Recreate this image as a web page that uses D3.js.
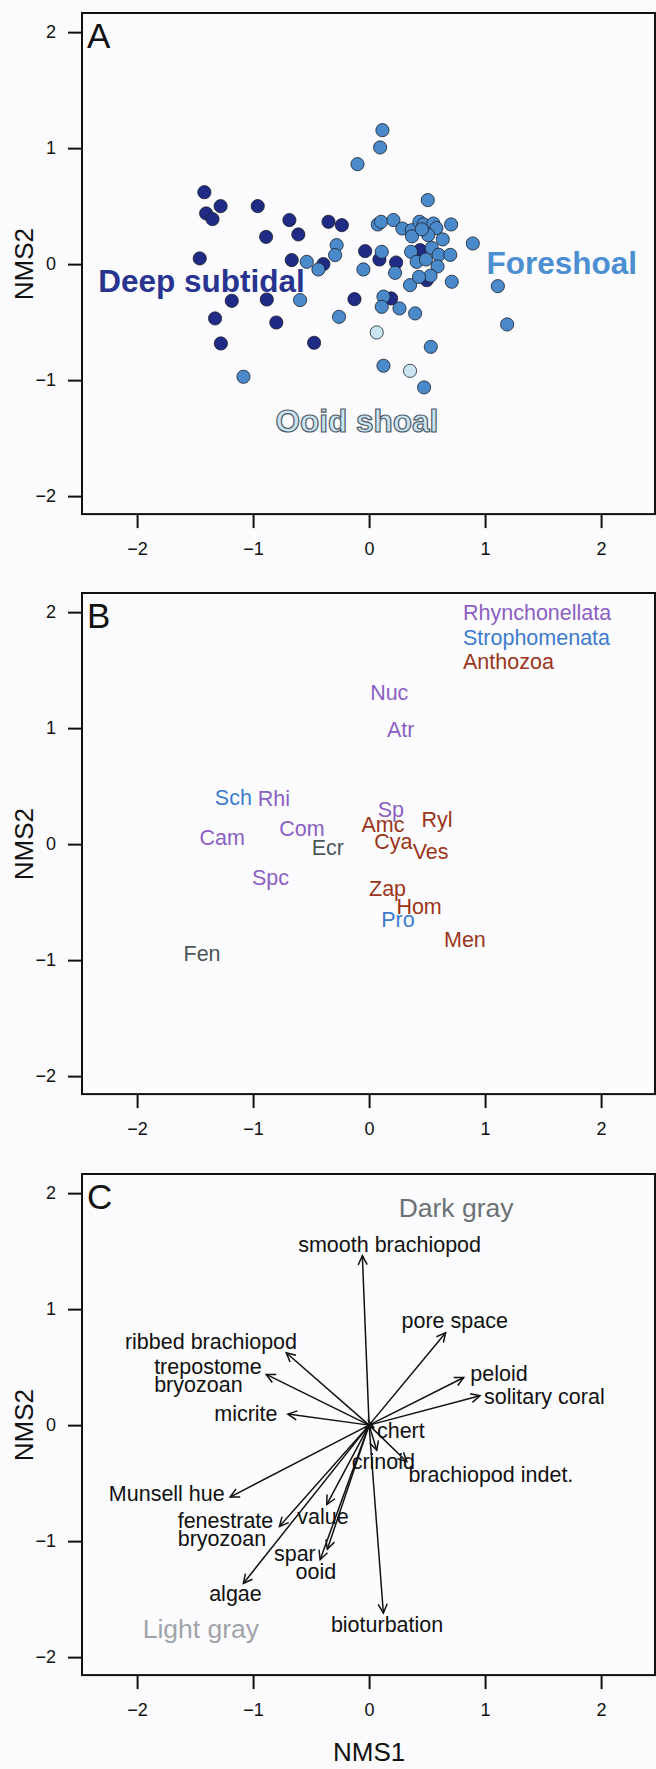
<!DOCTYPE html>
<html>
<head>
<meta charset="utf-8">
<script src="https://cdn.jsdelivr.net/npm/d3@7"></script>
<style>
  body { margin: 0; background: #fbfbfd; }
  svg { display: block; font-family: "Liberation Sans", Arial, Helvetica, sans-serif; }
</style>
</head>
<body>
<svg id="chart" width="656" height="1769"></svg>
<script>
// ---- panel A: site scores (NMS1, NMS2) by facies ----
const deepSubtidal = [
  [-1.42, 0.62], [-1.28, 0.50], [-1.405, 0.437], [-1.35, 0.388], [-0.96, 0.50],
  [-0.687, 0.38], [-0.888, 0.235], [-0.61, 0.256], [-0.35, 0.365], [-0.235, 0.336],
  [-1.46, 0.049], [-0.667, 0.035], [-0.394, 0.0], [-0.034, 0.112], [0.089, 0.04],
  [0.233, 0.014], [0.44, 0.121], [0.497, -0.138], [-1.184, -0.316], [-0.882, -0.305],
  [-0.126, -0.302], [0.19, -0.296], [-1.328, -0.468], [-0.80, -0.503], [-1.278, -0.684],
  [-0.474, -0.678]
];
const foreshoal = [
  [0.115, 1.155], [0.095, 1.006], [-0.10, 0.862], [0.506, 0.552], [0.075, 0.342],
  [0.103, 0.365], [0.21, 0.38], [0.287, 0.307], [0.368, 0.293], [0.434, 0.365],
  [0.47, 0.342], [0.554, 0.35], [0.58, 0.31], [0.707, 0.342], [0.894, 0.178],
  [0.51, 0.25], [0.635, 0.213], [0.37, 0.24], [0.455, 0.30], [0.54, 0.14],
  [-0.28, 0.164], [-0.293, 0.078], [-0.537, 0.02], [-0.437, -0.046], [-0.049, -0.046],
  [0.109, 0.106], [0.224, -0.075], [0.362, 0.106], [0.41, 0.02], [0.49, 0.04],
  [0.60, 0.08], [0.70, 0.08], [0.59, -0.02], [0.53, -0.10], [0.713, -0.152],
  [0.353, -0.181], [0.43, -0.11], [-0.595, -0.31], [0.124, -0.28], [0.109, -0.368],
  [0.262, -0.382], [0.397, -0.425], [-0.259, -0.454], [0.532, -0.713], [0.124, -0.876],
  [0.474, -1.063], [-1.083, -0.971], [1.11, -0.19], [1.19, -0.52]
];
const ooidShoal = [[0.066, -0.589], [0.353, -0.92]];
const faciesNames = ["Deep subtidal", "Foreshoal", "Ooid shoal"];
const faciesLabelX = [-1.444, 1.661, -0.106];
const faciesLabelY = [-0.141, 0.013, -1.352];

// ---- panel B: taxon scores ----
const taxa = ["Nuc", "Atr", "Sch", "Rhi", "Com", "Cam", "Ecr", "Spc", "Fen",
  "Sp", "Amc", "Ryl", "Cya", "Ves", "Zap", "Hom", "Pro", "Men"];
const taxaX = [0.174, 0.273, -1.17, -0.82, -0.578, -1.266, -0.355, -0.85, -1.44,
  0.188, 0.119, 0.586, 0.21, 0.53, 0.159, 0.431, 0.249, 0.826];
const taxaY = [1.305, 0.986, 0.408, 0.396, 0.14, 0.057, -0.03, -0.29, -0.94,
  0.30, 0.169, 0.21, 0.028, -0.06, -0.38, -0.54, -0.65, -0.82];
const taxaClass = ["R", "R", "S", "R", "R", "R", "O", "R", "O",
  "R", "A", "A", "A", "A", "A", "A", "S", "A"];
const classNames = ["Rhynchonellata", "Strophomenata", "Anthozoa"];

// ---- panel C: environmental vectors ----
const vectors = ["smooth brachiopod", "pore space", "peloid", "solitary coral",
  "ribbed brachiopod", "trepostome\nbryozoan", "micrite", "chert", "crinoid",
  "brachiopod indet.", "Munsell hue", "fenestrate\nbryozoan", "value", "spar",
  "ooid", "algae", "bioturbation"];
const vecX = [-0.058, 0.66, 0.816, 0.956, -0.714, -0.887, -0.70, 0.04, 0.066,
  0.325, -1.198, -0.773, -0.365, -0.36, -0.422, -1.084, 0.123];
const vecY = [1.46, 0.797, 0.411, 0.253, 0.624, 0.437, 0.095, -0.02, -0.216,
  -0.315, -0.62, -0.873, -0.685, -1.07, -1.16, -1.365, -1.62];
const vecLabelX = [0.177, 0.738, 1.12, 1.511, -1.363, -1.853, -1.062, 0.274, 0.123,
  1.05, -1.744, -1.65, -0.398, -0.64, -0.459, -1.152, 0.155];
const vecLabelY = [1.56, 0.904, 0.448, 0.246, 0.724, 0.43, 0.098, -0.043, -0.316,
  -0.428, -0.589, -0.895, -0.79, -1.106, -1.256, -1.453, -1.715];
const colourNames = ["Dark gray", "Light gray"];
const colourX = [0.75, -1.45];
const colourY = [1.88, -1.75];

const ticks = [-2, -1, 0, 1, 2];

const faciesColor = ["#1f2b84", "#4a8acb", "#c8e5f1"];
const faciesText = ["#28348f", "#4b8fd2", "#c8e5f1"];
const classColor = { R: "#8b5fc3", S: "#3c7bcf", A: "#9b3519", O: "#4b5656" };

const svg = d3.select("#chart");
const fmt = d => d < 0 ? "\u2212" + Math.abs(d) : String(d);

svg.append("defs").append("marker")
    .attr("id", "head")
    .attr("viewBox", "-11 -6 13 12")
    .attr("refX", 0).attr("refY", 0)
    .attr("markerWidth", 13).attr("markerHeight", 12)
    .attr("markerUnits", "userSpaceOnUse")
    .attr("orient", "auto")
  .append("path")
    .attr("d", "M-9,-4.5L0,0L-9,4.5")
    .attr("fill", "none")
    .attr("stroke", "#111")
    .attr("stroke-width", 1.5);

function makePanel(top, letter) {
    const x = d3.scaleLinear().domain([-2.475, 2.47]).range([82, 655.6]);
    const y = d3.scaleLinear().domain([-2.155, 2.165]).range([top + 501.1, top]);
    const g = svg.append("g");

    g.append("rect")
        .attr("x", x.range()[0]).attr("y", top)
        .attr("width", 655 - x.range()[0]).attr("height", y.range()[0] - top)
        .attr("fill", "#fcfcfe")
        .attr("stroke", "#111").attr("stroke-width", 2);

    const ax = g.append("g")
        .attr("transform", `translate(0,${y.range()[0]})`)
        .call(d3.axisBottom(x).tickValues(ticks).tickFormat(fmt).tickSize(14).tickPadding(14));
    const ay = g.append("g")
        .attr("transform", `translate(${x.range()[0]},0)`)
        .call(d3.axisLeft(y).tickValues(ticks).tickFormat(fmt).tickSize(14).tickPadding(12));
    [ax, ay].forEach(a => {
        a.select(".domain").remove();
        a.selectAll("line").attr("stroke", "#111").attr("stroke-width", 2);
        a.selectAll("text").attr("font-size", 18).attr("fill", "#111")
            .attr("font-family", '"Liberation Sans", Arial, sans-serif');
    });

    g.append("text")
        .attr("transform", `translate(33,${y(0)}) rotate(-90)`)
        .attr("text-anchor", "middle")
        .attr("font-size", 26).attr("fill", "#111")
        .text("NMS2");

    g.append("text")
        .attr("x", 87).attr("y", y(0) - 216)
        .attr("font-size", 35).attr("fill", "#111")
        .text(letter);

    return { x, y, g };
}

// ---------- Panel A ----------
{
    const { x, y, g } = makePanel(13, "A");
    [deepSubtidal, foreshoal, ooidShoal].forEach((pts, i) => {
        g.append("g").selectAll("circle")
            .data(pts)
            .enter()
            .append("circle")
            .attr("cx", d => x(d[0]))
            .attr("cy", d => y(d[1]))
            .attr("r", 6.6)
            .attr("fill", faciesColor[i])
            .attr("stroke", "#1a1f2a")
            .attr("stroke-width", 0.8);
    });
    g.selectAll(".facies")
        .data(faciesNames)
        .enter()
        .append("text")
        .attr("x", (d, i) => x(faciesLabelX[i]))
        .attr("y", (d, i) => y(faciesLabelY[i]) + 11.3)
        .attr("text-anchor", "middle")
        .attr("font-size", 31.5)
        .attr("font-weight", "bold")
        .attr("fill", (d, i) => faciesText[i])
        .attr("stroke", (d, i) => i === 2 ? "#4f5b68" : "none")
        .attr("stroke-width", 1.2)
        .text(d => d);
}

// ---------- Panel B ----------
{
    const { x, y, g } = makePanel(593, "B");
    g.selectAll(".taxon")
        .data(taxa)
        .enter()
        .append("text")
        .attr("x", (d, i) => x(taxaX[i]))
        .attr("y", (d, i) => y(taxaY[i]) + 7.7)
        .attr("text-anchor", "middle")
        .attr("font-size", 21.5)
        .attr("fill", (d, i) => classColor[taxaClass[i]])
        .text(d => d);
    g.selectAll(".legend")
        .data(classNames)
        .enter()
        .append("text")
        .attr("x", 463)
        .attr("y", (d, i) => y(2) + 7.7 + i * 24.7)
        .attr("font-size", 21.5)
        .attr("fill", (d, i) => classColor[["R", "S", "A"][i]])
        .text(d => d);
}

// ---------- Panel C ----------
{
    const { x, y, g } = makePanel(1174, "C");
    g.selectAll(".vec")
        .data(vectors)
        .enter()
        .append("line")
        .attr("x1", x(0)).attr("y1", y(0))
        .attr("x2", (d, i) => x(vecX[i]))
        .attr("y2", (d, i) => y(vecY[i]))
        .attr("stroke", "#111")
        .attr("stroke-width", 1.5)
        .attr("marker-end", "url(#head)");

    g.selectAll(".vlab")
        .data(vectors)
        .enter()
        .append("text")
        .attr("font-size", 21.5)
        .attr("fill", "#111")
        .each(function(d, i) {
            const lines = d.split("\n");
            const t = d3.select(this)
                .attr("text-anchor", lines.length > 1 ? "start" : "middle");
            const cy = y(vecLabelY[i]);
            lines.forEach((s, k) => {
                t.append("tspan")
                    .attr("x", x(vecLabelX[i]))
                    .attr("y", cy + 7.7 + (k - (lines.length - 1) / 2) * 18)
                    .text(s);
            });
        });

    g.selectAll(".colour")
        .data(colourNames)
        .enter()
        .append("text")
        .attr("x", (d, i) => x(colourX[i]))
        .attr("y", (d, i) => y(colourY[i]) + 9.5)
        .attr("text-anchor", "middle")
        .attr("font-size", 26.5)
        .attr("fill", (d, i) => i === 0 ? "#6b7075" : "#a0a4a9")
        .text(d => d);

    svg.append("text")
        .attr("x", x(0)).attr("y", 1761)
        .attr("text-anchor", "middle")
        .attr("font-size", 26).attr("fill", "#111")
        .text("NMS1");
}
</script>
</body>
</html>
